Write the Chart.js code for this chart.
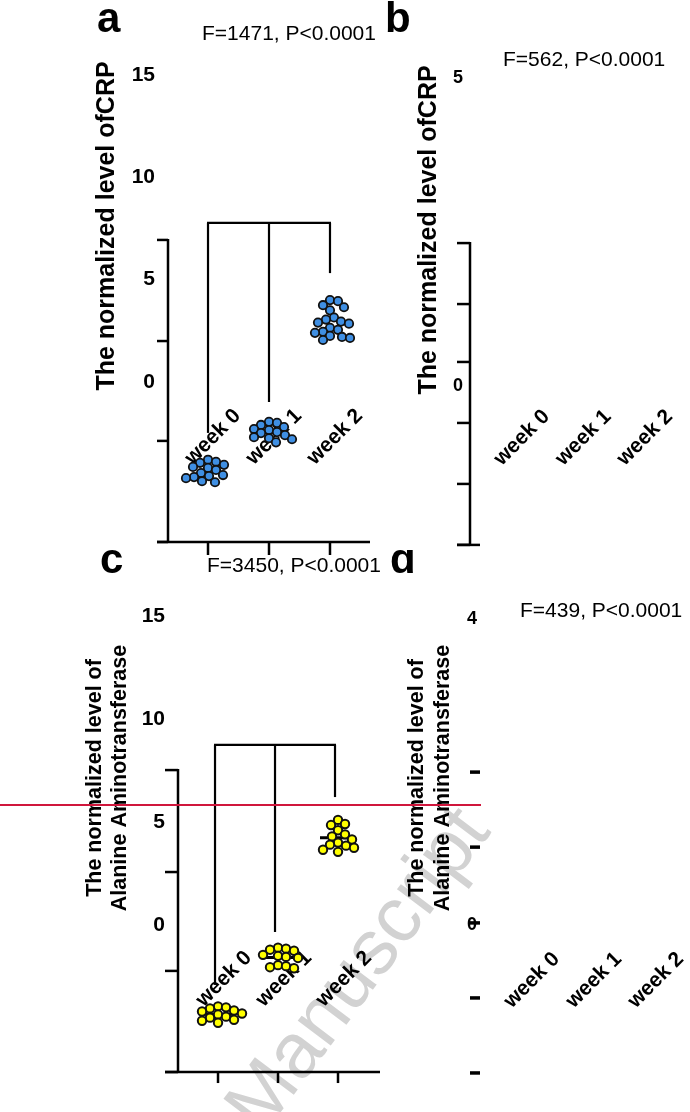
<!DOCTYPE html>
<html>
<head>
<meta charset="utf-8">
<script src="https://cdn.jsdelivr.net/npm/chart.js@4.4.1/dist/chart.umd.min.js"></script>
<style>
  html, body { margin: 0; padding: 0; background: #fff; }
  body { width: 690px; height: 1112px; position: relative; overflow: hidden; }
  canvas { position: absolute; }
  #mark {
    position: absolute; left: 356px; top: 968px;
    transform: translate(-50%, -50%) rotate(-53deg);
    font: 78px "Liberation Sans", Arial, sans-serif; color: #d2d2d2;
    white-space: nowrap;
  }
  #redline { position: absolute; left: 0; top: 804px; width: 481px; height: 2px; background: #d0163c; z-index: 5; }
</style>
</head>
<body>
<div id="mark">Manuscript</div>
<canvas id="panelA"></canvas>
<canvas id="panelB"></canvas>
<canvas id="panelC"></canvas>
<canvas id="panelD"></canvas>
<div id="redline"></div>

<script>
const weeks = ["week 0", "week 1", "week 2"];

// normalized CRP, panel a
const crpWeek0 = [-3.8, -3.9, -3.95, -4.05, -4.15, -4.2, -4.3, -4.45, -4.55, -4.6, -4.65, -4.7, -4.85, -4.9];
const crpWeek1 = [-1.95, -2.0, -2.1, -2.2, -2.3, -2.35, -2.45, -2.5, -2.6, -2.7, -2.75, -2.8, -2.95];
const crpWeek2 = [4.0, 3.95, 3.75, 3.65, 3.5, 3.15, 3.05, 2.95, 2.9, 2.85, 2.65, 2.55, 2.45, 2.4, 2.25, 2.2, 2.15, 2.05];

// normalized alanine aminotransferase, panel c
const altWeek0 = [-3.95, -4.0, -4.05, -4.15, -4.2, -4.3, -4.35, -4.45, -4.5, -4.6, -4.65, -4.75];
const altWeek1 = [-1.1, -1.15, -1.2, -1.25, -1.45, -1.5, -1.55, -1.6, -1.95, -2.0, -2.05, -2.1];
const altWeek2 = [5.1, 4.9, 4.85, 4.6, 4.4, 4.3, 4.15, 4.0, 3.9, 3.85, 3.75, 3.65, 3.55];

// tick labels
const labelsA = [0, 5, 10, 15];
const labelsB = [0, 5];
const labelsC = [0, 5, 10, 15];
const labelsD = [0, 4];

// tick marks on the drawn axes (they don't line up with the labels in the original)
const marksA = [6.94, 2.0, -2.88, -7.82];
const marksB = [2.32, 1.33, 0.39, -0.6, -1.59, -2.58];
const marksC = [7.52, 2.57, -2.23, -7.14];
const marksD = [2.0, 1.02, 0.03, -0.95, -1.93];

// significance brackets: top, then leg ends for week 0/1/2
const bracketA = [7.77, -2.49, -0.98, 5.32];
const bracketC = [8.74, -2.91, -0.34, 6.21];

const statA = "F=1471, P<0.0001";
const statB = "F=562, P<0.0001";
const statC = "F=3450, P<0.0001";
const statD = "F=439, P<0.0001";

const titleCRP = ["The normalized level ofCRP"];
const titleALT = ["The normalized level of", "Alanine Aminotransferase"];

const FONT = '"Liberation Sans", Arial, sans-serif';
Chart.defaults.font.family = FONT;
Chart.defaults.color = "#000";

// simple beeswarm: x offsets (in category units) so dots don't pile up
function swarm(vals, pxX, pxY, gap) {
  const order = vals.map((v, i) => i).sort((a, b) => vals[b] - vals[a]);
  const placed = [];
  const offs = [];
  order.forEach(i => {
    const py = vals[i] * pxY;
    for (let k = 0; k < 80; k++) {
      const dx = (k % 2 ? 1 : -1) * Math.ceil(k / 2);
      if (placed.every(p => Math.hypot(p[0] - dx, p[1] - py) >= gap)) {
        placed.push([dx, py]);
        offs[i] = dx / pxX;
        break;
      }
    }
  });
  return offs;
}

function line(ctx, x1, y1, x2, y2) {
  ctx.beginPath();
  ctx.moveTo(x1, y1);
  ctx.lineTo(x2, y2);
  ctx.stroke();
}

function decorFor(p) {
  const ox = p.box.left, oy = p.box.top;
  return {
    id: "decor",
    beforeDatasetsDraw(chart) {
      const { ctx, chartArea: a, scales: { x, y } } = chart;
      ctx.save();
      ctx.strokeStyle = "#000";
      ctx.fillStyle = "#000";

      // drawn y axis + tick marks
      ctx.lineWidth = p.markWidth;
      const ys = p.marks.map(v => y.getPixelForValue(v));
      if (p.axisLine) line(ctx, a.left, Math.min(...ys) - 1, a.left, Math.max(...ys) + 1);
      ys.forEach(py => line(ctx, a.left - p.markLen, py, a.left, py));

      // bottom axis
      if (p.xAxis) {
        const py = y.getPixelForValue(p.xAxis.at);
        line(ctx, a.left - p.markLen, py, a.left + p.xAxis.len, py);
        if (p.xAxis.tickLen) {
          weeks.forEach((w, i) => {
            const px = x.getPixelForValue(i);
            line(ctx, px, py, px, py + p.xAxis.tickLen);
          });
        }
      }

      // bracket
      if (p.bracket) {
        ctx.lineWidth = 2.2;
        const top = y.getPixelForValue(p.bracket[0]);
        const xs = weeks.map((w, i) => x.getPixelForValue(i) + p.bracketDx);
        line(ctx, xs[0] - 1, top, xs[2] + 1, top);
        xs.forEach((px, i) => line(ctx, px, top, px, y.getPixelForValue(p.bracket[i + 1])));
      }

      // mean bars
      if (p.meanBars) {
        ctx.lineWidth = 3;
        p.series.forEach((vals, i) => {
          const m = vals.reduce((s, v) => s + v, 0) / vals.length;
          const px = x.getPixelForValue(i), py = y.getPixelForValue(m);
          line(ctx, px - 18, py, px + 18, py);
        });
      }

      // rotated week labels sit inside the plot
      ctx.font = "bold 21px " + FONT;
      ctx.textAlign = "center";
      ctx.textBaseline = "middle";
      weeks.forEach((w, i) => {
        ctx.save();
        ctx.translate(x.getPixelForValue(i) + p.weekDx, y.getPixelForValue(p.weekAt));
        ctx.rotate(-Math.PI / 4);
        ctx.fillText(w, 0, 0);
        ctx.restore();
      });
      ctx.restore();
    },
    afterDraw(chart) {
      const ctx = chart.ctx;
      ctx.save();
      ctx.fillStyle = "#000";
      ctx.textBaseline = "alphabetic";
      ctx.textAlign = "left";
      ctx.font = "bold 42px " + FONT;
      ctx.fillText(p.letter, p.letterPos[0] - ox, p.letterPos[1] - oy);
      ctx.font = "21px " + FONT;
      ctx.fillText(p.stat, p.statPos[0] - ox, p.statPos[1] - oy);

      ctx.font = "bold " + p.titleSize + "px " + FONT;
      ctx.textAlign = "center";
      ctx.textBaseline = "middle";
      p.title.forEach((t, i) => {
        ctx.save();
        ctx.translate(p.titleX[i] - ox, p.titleY - oy);
        ctx.rotate(-Math.PI / 2);
        ctx.fillText(t, 0, 0);
        ctx.restore();
      });
      ctx.restore();
    }
  };
}

function makePanel(id, p) {
  const el = document.getElementById(id);
  el.width = p.box.w;
  el.height = p.box.h;
  el.style.left = p.box.left + "px";
  el.style.top = p.box.top + "px";

  const pxX = (p.area.right - p.area.left) / (p.xRange[1] - p.xRange[0]);
  const pxY = (p.area.bottom - p.area.top) / (p.yRange[1] - p.yRange[0]);

  const datasets = p.series.map((vals, i) => {
    const offs = swarm(vals, pxX, pxY, 8);
    return {
      label: weeks[i],
      data: vals.map((v, j) => ({ x: i + offs[j], y: v })),
      pointRadius: 4.2,
      pointBorderWidth: p.dotBorder,
      backgroundColor: p.dotColor,
      borderColor: "#111"
    };
  });

  return new Chart(el, {
    type: "scatter",
    data: { datasets },
    options: {
      responsive: false,
      animation: false,
      devicePixelRatio: 1,
      layout: {
        autoPadding: false,
        padding: {
          left: 0,
          top: p.area.top - p.box.top,
          right: p.box.left + p.box.w - p.area.right,
          bottom: p.box.top + p.box.h - p.area.bottom
        }
      },
      plugins: { legend: { display: false }, tooltip: { enabled: false } },
      scales: {
        x: { type: "linear", display: false, min: p.xRange[0], max: p.xRange[1] },
        y: {
          type: "linear",
          min: p.yRange[0],
          max: p.yRange[1],
          afterBuildTicks: s => { s.ticks = p.labels.map(v => ({ value: v })); },
          afterFit: s => {
            s.width = p.area.left - p.box.left;
            s.paddingTop = 0;
            s.paddingBottom = 0;
          },
          grid: { display: false, drawTicks: false },
          border: { display: false },
          ticks: {
            padding: p.labelPad,
            color: "#000",
            font: { size: p.labelSize, weight: "bold" },
            callback: v => String(v)
          }
        }
      }
    },
    plugins: [decorFor(p)]
  });
}

makePanel("panelA", {
  box: { left: 0, top: 0, w: 380, h: 560 },
  area: { left: 168, top: 75, right: 370, bottom: 560 },
  xRange: [-0.656, 2.656], yRange: [-8.7, 15],
  series: [crpWeek0, crpWeek1, crpWeek2], dotColor: "#3f8fe3", dotBorder: 1.8,
  labels: labelsA, labelSize: 21, labelPad: 13,
  marks: marksA, markLen: 11, markWidth: 2.5, axisLine: true,
  xAxis: { at: marksA[3], len: 202, tickLen: 13 },
  bracket: bracketA, bracketDx: 0, meanBars: false,
  weekDx: 5, weekAt: -2.69,
  letter: "a", letterPos: [97, 32],
  stat: statA, statPos: [202, 40],
  title: titleCRP, titleSize: 25, titleX: [107], titleY: 226
});

makePanel("panelB", {
  box: { left: 380, top: 0, w: 310, h: 560 },
  area: { left: 470, top: 78, right: 690, bottom: 560 },
  xRange: [-0.764, 2.813], yRange: [-2.825, 5],
  series: [], dotColor: "#3f8fe3", dotBorder: 1.8,
  labels: labelsB, labelSize: 18, labelPad: 7,
  marks: marksB, markLen: 13, markWidth: 2.5, axisLine: true,
  xAxis: { at: marksB[5], len: 10, tickLen: 0 },
  bracket: null, bracketDx: 0, meanBars: false,
  weekDx: 5, weekAt: -0.84,
  letter: "b", letterPos: [385, 32],
  stat: statB, statPos: [503, 66],
  title: titleCRP, titleSize: 25, titleX: [429], titleY: 230
});

makePanel("panelC", {
  box: { left: 0, top: 550, w: 380, h: 562 },
  area: { left: 178, top: 616, right: 380, bottom: 1112 },
  xRange: [-0.667, 2.7], yRange: [-9.08, 15],
  series: [altWeek0, altWeek1, altWeek2], dotColor: "#ffff00", dotBorder: 2,
  labels: labelsC, labelSize: 21, labelPad: 13,
  marks: marksC, markLen: 13, markWidth: 2.5, axisLine: true,
  xAxis: { at: marksC[3], len: 202, tickLen: 11 },
  bracket: bracketC, bracketDx: -3, meanBars: true,
  weekDx: 6, weekAt: -2.62,
  letter: "c", letterPos: [100, 573],
  stat: statC, statPos: [207, 572],
  title: titleALT, titleSize: 21.5, titleX: [95, 120], titleY: 778
});

makePanel("panelD", {
  box: { left: 380, top: 550, w: 310, h: 562 },
  area: { left: 480, top: 619, right: 690, bottom: 1112 },
  xRange: [-0.758, 2.63], yRange: [-2.44, 4],
  series: [], dotColor: "#ffff00", dotBorder: 2,
  labels: labelsD, labelSize: 18, labelPad: 3,
  marks: marksD, markLen: 10, markWidth: 3.5, axisLine: false,
  xAxis: null,
  bracket: null, bracketDx: 0, meanBars: false,
  weekDx: 5, weekAt: -0.72,
  letter: "d", letterPos: [390, 573],
  stat: statD, statPos: [520, 617],
  title: titleALT, titleSize: 21.5, titleX: [417, 443], titleY: 778
});
</script>
</body>
</html>
